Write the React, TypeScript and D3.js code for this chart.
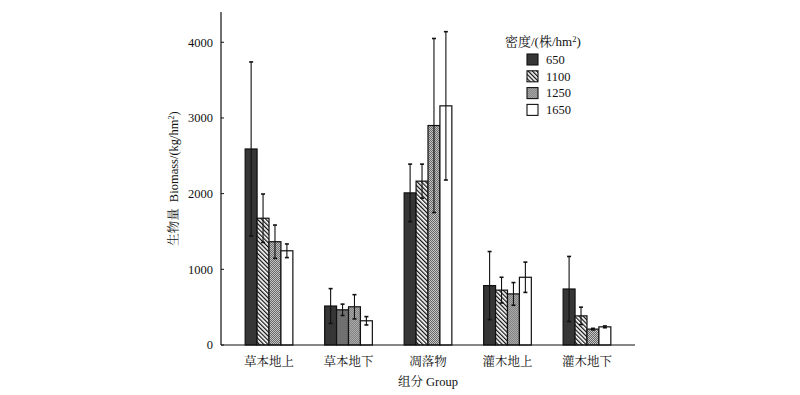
import React from "react";
import * as d3 from "d3";

// biomass per group, one array per planting density
const groups = ["草本地上", "草本地下", "凋落物", "灌木地上", "灌木地下"];
const densities = ["650", "1100", "1250", "1650"];
const mean650 = [2590, 515, 2010, 785, 740];
const mean1100 = [1675, 465, 2165, 725, 385];
const mean1250 = [1365, 505, 2900, 675, 210];
const mean1650 = [1245, 320, 3160, 895, 240];
const err650 = [1150, 230, 380, 450, 430];
const err1100 = [320, 75, 225, 170, 115];
const err1250 = [220, 160, 1150, 150, 10];
const err1650 = [90, 55, 980, 200, 12];
const yTicks = [0, 1000, 2000, 3000, 4000];

const means = [mean650, mean1100, mean1250, mean1650];
const errs = [err650, err1100, err1250, err1650];
const fills = ["#363636", "url(#hatch)", "url(#dots)", "#ffffff"];

const serif = "'Liberation Serif', 'Noto Serif CJK SC', 'Noto Sans CJK SC', serif";

const App = () => {
  const width = 800;
  const height = 395;
  const left = 221;
  const right = 635;
  const bottom = 345;
  const top = 12;
  const fs = 12.5;

  const x = d3
    .scaleBand()
    .domain(groups)
    .range([left, right])
    .paddingInner(0.4)
    .paddingOuter(0.304);

  const x1 = d3.scaleBand().domain(densities).range([0, x.bandwidth()]);

  const y = d3.scaleLinear().domain([0, 4400]).range([bottom, top]);

  const cap = 2;

  return (
    <svg
      width={width}
      height={height}
      style={{ position: "absolute", left: 0, top: 0, background: "#fff" }}
      fontFamily={serif}
    >
      <defs>
        <pattern
          id="hatch"
          width="3"
          height="3"
          patternUnits="userSpaceOnUse"
          patternTransform="rotate(-45)"
        >
          <rect width="3" height="3" fill="#fff" />
          <line x1="0.6" y1="0" x2="0.6" y2="3" stroke="#111" strokeWidth="1.3" />
        </pattern>
        <pattern id="dots" width="2" height="2" patternUnits="userSpaceOnUse">
          <rect width="2" height="2" fill="#d8d8d8" />
          <rect width="1" height="1" fill="#555" />
          <rect x="1" y="1" width="1" height="1" fill="#555" />
        </pattern>
      </defs>

      {/* bars */}
      {groups.map((g, gi) => (
        <g key={g} transform={`translate(${x(g)},0)`}>
          {densities.map((d, di) => {
            const v = means[di][gi];
            // the 1100 bar of the second group is plain grey in the source
            const fill = gi === 1 && di === 1 ? "#707070" : fills[di];
            return (
              <rect
                key={d}
                x={x1(d)}
                y={y(v)}
                width={x1.bandwidth()}
                height={bottom - y(v)}
                fill={fill}
                stroke="#111"
                strokeWidth={1.2}
              />
            );
          })}
          {densities.map((d, di) => {
            const v = means[di][gi];
            const e = errs[di][gi];
            const cx = (x1(d) as number) + x1.bandwidth() / 2;
            return (
              <g key={d} stroke="#111" strokeWidth={1.1}>
                <line x1={cx} x2={cx} y1={y(v + e)} y2={y(Math.max(0, v - e))} />
                <line x1={cx - cap} x2={cx + cap} y1={y(v + e)} y2={y(v + e)} strokeWidth={1.6} />
                <line
                  x1={cx - cap}
                  x2={cx + cap}
                  y1={y(Math.max(0, v - e))}
                  y2={y(Math.max(0, v - e))}
                  strokeWidth={1.6}
                />
              </g>
            );
          })}
        </g>
      ))}

      {/* axes */}
      <line x1={left} x2={left} y1={top} y2={bottom} stroke="#111" strokeWidth={1.2} />
      <line x1={left} x2={right} y1={bottom} y2={bottom} stroke="#111" strokeWidth={1.2} />
      {yTicks.map((t) => (
        <g key={t}>
          <line x1={left} x2={left + 3} y1={y(t)} y2={y(t)} stroke="#111" />
          <text x={left - 8} y={y(t)} dy="0.35em" textAnchor="end" fontSize={fs} fill="#111">
            {t}
          </text>
        </g>
      ))}
      {groups.map((g) => (
        <text
          key={g}
          x={(x(g) as number) + x.bandwidth() / 2}
          y={362}
          dy="0.35em"
          textAnchor="middle"
          fontSize={fs}
          fill="#111"
        >
          {g}
        </text>
      ))}
      <text x={(left + right) / 2} y={382} dy="0.35em" textAnchor="middle" fontSize={fs} fill="#111">
        组分 Group
      </text>
      <text
        transform={`translate(174,${(top + bottom) / 2}) rotate(-90)`}
        dy="0.35em"
        textAnchor="middle"
        fontSize={fs}
        fill="#111"
      >
        生物量<tspan dx="6">Biomass/(kg/hm</tspan>
        <tspan dy="-4" fontSize={8}>2</tspan>
        <tspan dy="4">)</tspan>
      </text>

      {/* legend */}
      <text x={505} y={41} dy="0.35em" fontSize={13} fill="#111">
        密度/(株/hm<tspan dy="-4" fontSize={8.5}>2</tspan>
        <tspan dy="4">)</tspan>
      </text>
      {densities.map((d, di) => (
        <g key={d} transform={`translate(527,${54 + di * 16.8})`}>
          <rect width={11} height={11} fill={fills[di]} stroke="#111" strokeWidth={1.1} />
          <text x={19} y={5.5} dy="0.35em" fontSize={fs} fill="#111">
            {d}
          </text>
        </g>
      ))}
    </svg>
  );
};

export default App;
